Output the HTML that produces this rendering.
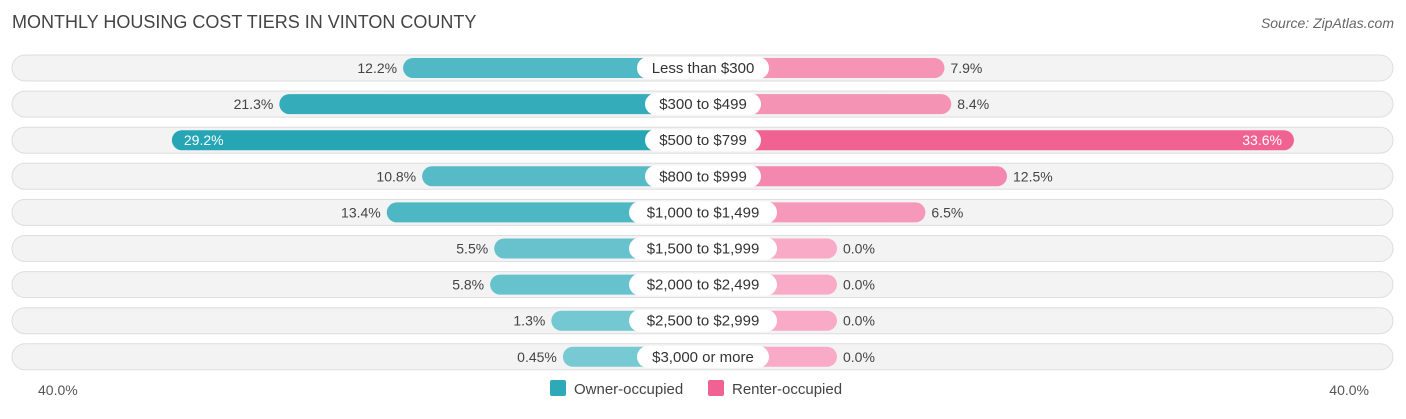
<!DOCTYPE html>
<html><head><meta charset="utf-8"><style>
body{margin:0;background:#fff;font-family:"Liberation Sans",sans-serif;}
svg text{font-family:"Liberation Sans",sans-serif;}
</style></head><body>
<svg id="c" width="1406" height="414" xmlns="http://www.w3.org/2000/svg">
<text x="12" y="28" font-size="18" fill="#444">MONTHLY HOUSING COST TIERS IN VINTON COUNTY</text>
<text x="1394" y="28" font-size="14" fill="#666" font-style="italic" text-anchor="end">Source: ZipAtlas.com</text>
<g id="rows"></g>
<text x="38" y="395" font-size="14" fill="#555">40.0%</text>
<text x="1369" y="395" font-size="14" fill="#555" text-anchor="end">40.0%</text>
<g><rect x="550" y="380" width="16" height="16" rx="2" fill="#2ea9b8"/><text x="574" y="394" font-size="15" fill="#444">Owner-occupied</text></g>
<g><rect x="708" y="380" width="16" height="16" rx="2" fill="#f06292"/><text x="732" y="394" font-size="15" fill="#444">Renter-occupied</text></g>
</svg>
<script>
const categories=["Less than $300","$300 to $499","$500 to $799","$800 to $999","$1,000 to $1,499","$1,500 to $1,999","$2,000 to $2,499","$2,500 to $2,999","$3,000 or more"];
const ownerValues=[12.2,21.3,29.2,10.8,13.4,5.5,5.8,1.3,0.45];
const renterValues=[7.9,8.4,33.6,12.5,6.5,0.0,0.0,0.0,0.0];
const ownerLabels=["12.2%","21.3%","29.2%","10.8%","13.4%","5.5%","5.8%","1.3%","0.45%"];
const renterLabels=["7.9%","8.4%","33.6%","12.5%","6.5%","0.0%","0.0%","0.0%","0.0%"];
const NS="http://www.w3.org/2000/svg";
const cx=703,base=134,k=13.6,y0=68,dy=36.1;
const w=v=>base+k*v;
const y=i=>y0+i*dy;
function mix(a,b,t){return "rgb("+a.map((x,j)=>Math.round(x+(b[j]-x)*t)).join(",")+")";}
const maxV=Math.max(...ownerValues,...renterValues);
const g=document.getElementById("rows");
function mk(tag,attrs,parent){const e=document.createElementNS(NS,tag);for(const a in attrs)e.setAttribute(a,attrs[a]);parent.appendChild(e);return e;}
categories.forEach((c,i)=>{
  const yc=y(i);
  const row=mk("g",{},g);
  
  
  const tr=mk("rect",{x:12,y:yc-13,width:1381,height:26,rx:13,fill:"#f3f3f3",stroke:"#dedede","stroke-width":1},row);
  
  
  const ov=ownerValues[i],rv=renterValues[i];
  const to=Math.min(1,ov/maxV*1.3),trn=Math.min(1,rv/maxV*1.3);
  const ob=mk("rect",{x:cx-w(ov),y:yc-10,width:w(ov),height:20,rx:10,fill:mix([120,202,212],[38,165,181],to)},row);
  
  
  const rb=mk("rect",{x:cx,y:yc-10,width:w(rv),height:20,rx:10,fill:mix([248,170,198],[240,98,146],trn)},row);
  
  
  const lw=c.length*8+20;
  const pill=mk("rect",{x:cx-lw/2,y:yc-11,width:lw,height:22,rx:11,fill:"#fff"},row);
  
  
  const ct=mk("text",{x:cx,y:yc+5,"font-size":15,fill:"#333","text-anchor":"middle"},row);
  ct.textContent=c;
  
  
  const big=w(ov)>450;
  const ot=mk("text",{x:big?cx-w(ov)+12:cx-w(ov)-6,y:yc+5,"font-size":14,fill:big?"#fff":"#444","text-anchor":big?"start":"end"},row);
  ot.textContent=ownerLabels[i];
  
  
  const bigR=w(rv)>450;
  const rt=mk("text",{x:bigR?cx+w(rv)-12:cx+w(rv)+6,y:yc+5,"font-size":14,fill:bigR?"#fff":"#444","text-anchor":bigR?"end":"start"},row);
  rt.textContent=renterLabels[i];
  
  
});
</script>
</body></html>
